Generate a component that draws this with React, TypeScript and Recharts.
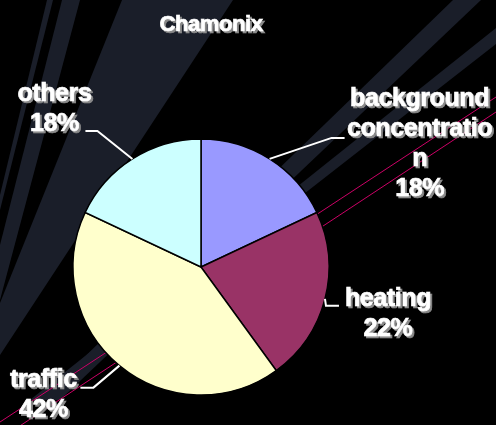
import React from 'react';
import { PieChart, Pie, Cell } from 'recharts';

// ---- data ----
const title = 'Chamonix';
const categories = ['background concentration', 'heating', 'traffic', 'others'];
const categoryLabelLines = [['background', 'concentratio', 'n'], ['heating'], ['traffic'], ['others']];
const values = [18, 22, 42, 18];
const sliceColors = ['#9999FF', '#993366', '#FFFFCC', '#CCFFFF'];

// ---- layout / style (not data) ----
const W = 496;
const H = 425;
const NAVY = '#1a1e29';
const MAGENTA = '#cc0066';
const FONT = '"Liberation Sans", Arial, Helvetica, sans-serif';

// label leader and text offsets relative to the slice's outer mid point
const LABEL_LAYOUT = [
  { elbow: [62, -21], end: [75, -21], text: [150, -53] },
  { elbow: [1, 7], end: [14, 7], text: [63, 7] },
  { elbow: [-26, 22], end: [-39, 22], text: [-76, 21] },
  { elbow: [-35, -28], end: [-47, -28], text: [-78, -58] },
];
const LINE_HEIGHT = 30;

const data = categories.map((name, i) => ({ name, value: values[i], lines: categoryLabelLines[i] }));

const ShadowText = ({ x, y, children, size }: any) => (
  <text
    x={x}
    y={y}
    textAnchor="middle"
    fontFamily={FONT}
    fontWeight="bold"
    fontSize={size}
    fill="#ffffff"
    stroke="#ffffff"
    strokeWidth={0.7}
    letterSpacing={-0.4}
    filter="url(#txtShadow)"
  >
    {children}
  </text>
);

const renderLabel = (props: any) => {
  const { cx, cy, midAngle, outerRadius, index, percent } = props;
  const RAD = Math.PI / 180;
  const ex = cx + outerRadius * Math.cos(-midAngle * RAD);
  const ey = cy + outerRadius * Math.sin(-midAngle * RAD);
  const lay = LABEL_LAYOUT[index];
  const lines: string[] = [...data[index].lines, `${Math.round(percent * 100)}%`];
  const tx = ex + lay.text[0];
  const ty = ey + lay.text[1];
  return (
    <g key={`lbl-${index}`}>
      <polyline
        points={`${ex},${ey} ${ex + lay.elbow[0]},${ey + lay.elbow[1]} ${ex + lay.end[0]},${ey + lay.end[1]}`}
        fill="none"
        stroke="#ffffff"
        strokeWidth={2}
      />
      {lines.map((ln, k) => (
        <ShadowText key={k} x={tx} y={ty + k * LINE_HEIGHT} size={25}>
          {ln}
        </ShadowText>
      ))}
    </g>
  );
};

const Background = () => (
  <svg width={W} height={H} style={{ position: 'absolute', left: 0, top: 0 }}>
    <defs>
      <filter id="txtShadow" x="-10%" y="-20%" width="130%" height="150%">
        <feDropShadow dx={2} dy={2} stdDeviation={0.4} floodColor="#8a8a8a" floodOpacity={1} />
      </filter>
    </defs>
    <rect x={0} y={0} width={W} height={H} fill="#000" />
    <polygon points="122,0 233,0 0,355 0,303" fill={NAVY} />
    <polygon points="47,0 53,0 0,210 0,195" fill={NAVY} />
    <polygon points="62,0 80,0 0,300 0,245" fill={NAVY} />
    <polygon points="453,0 481,0 60,400 40,400" fill={NAVY} />
    <polygon points="496,28 496,44 40,400 30,400" fill={NAVY} />
    <line x1={496} y1={97} x2={0} y2={422} stroke={MAGENTA} strokeWidth={1} />
    <line x1={496} y1={112} x2={0} y2={439} stroke={MAGENTA} strokeWidth={1} />
    <ShadowText x={211} y={31} size={22}>{title}</ShadowText>
  </svg>
);

export default function App() {
  return (
    <div style={{ position: 'absolute', left: 0, top: 0, width: W, height: H, background: '#000', overflow: 'hidden' }}>
      <Background />
      <div style={{ position: 'absolute', left: 0, top: 0 }}>
        <PieChart width={W} height={H} margin={{ top: 0, right: 0, bottom: 0, left: 0 }}>
          <Pie
            data={data}
            dataKey="value"
            nameKey="name"
            cx={201}
            cy={267}
            outerRadius={128}
            startAngle={90}
            endAngle={-270}
            stroke="#000"
            strokeWidth={1.5}
            label={renderLabel}
            labelLine={false}
            isAnimationActive={false}
          >
            {data.map((d, i) => (
              <Cell key={d.name} fill={sliceColors[i]} />
            ))}
          </Pie>
        </PieChart>
      </div>
    </div>
  );
}
